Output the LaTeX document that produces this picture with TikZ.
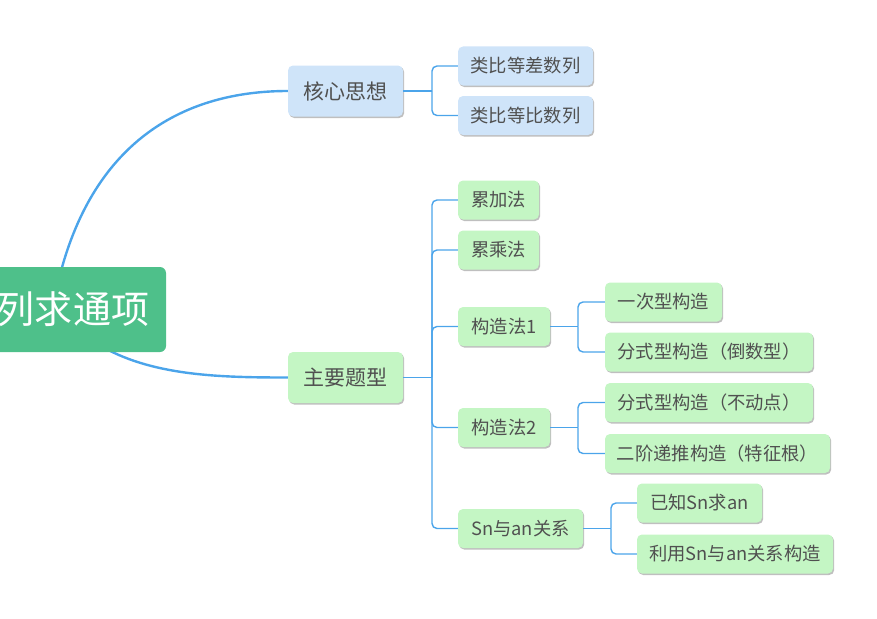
\documentclass[tikz,border=0pt]{standalone}
\usepackage{fontspec}
\setmainfont{Noto Sans CJK SC}
\usetikzlibrary{shadows,calc,backgrounds}
\definecolor{rootgreen}{HTML}{4EC08A}
\definecolor{boxblue}{HTML}{CFE4F9}
\definecolor{boxgreen}{HTML}{C4F6C4}
\definecolor{linkblue}{HTML}{4BA4EA}
\definecolor{txtgray}{HTML}{505050}
\tikzset{
  base/.style={rectangle, rounded corners=5pt, inner sep=0pt, text=txtgray,
    drop shadow={shadow xshift=1.2pt, shadow yshift=-1.5pt, opacity=0.25, fill=black}},
  rootbox/.style={rectangle, rounded corners=6pt, fill=rootgreen, text=white, inner sep=0pt,
    font=\fontsize{38}{40}\selectfont},
  lvlone/.style={base, font=\fontsize{21}{23}\selectfont, minimum width=115pt, minimum height=51pt},
  lvltwo/.style={base, font=\fontsize{18.3}{20}\selectfont, minimum height=39pt},
  bluebox/.style={fill=boxblue},
  greenbox/.style={fill=boxgreen},
  mainlink/.style={draw=linkblue, line width=2.4pt},
  sublink/.style={draw=linkblue, line width=1.4pt, rounded corners=5pt},
}
\begin{document}
\begin{tikzpicture}[x=1pt,y=-1pt]
\useasboundingbox (0,0) rectangle (877,618);
% root and level-one nodes
\node[rootbox, minimum width=186pt, minimum height=85pt] (root) at (73,309.5) {列求通项};
\node[lvlone, bluebox] (hx) at (345.5,91) {核心思想};
\node[lvlone, greenbox] (zy) at (345.5,377.5) {主要题型};
% main links (behind root)
\begin{scope}[on background layer]
\draw[mainlink] ([xshift=-13pt,yshift=-8pt]root.north) .. controls (95,140) and (185,91) .. (hx.west);
\draw[mainlink] ([xshift=25pt,yshift=8pt]root.south) .. controls (150,376) and (220,377.5) .. (zy.west);
\end{scope}
% children of 核心思想
\node[lvltwo, bluebox, minimum width=135pt] (a1) at (525.5,66) {类比等差数列};
\node[lvltwo, bluebox, minimum width=135pt] (a2) at (525.5,115.5) {类比等比数列};
% children of 主要题型
\node[lvltwo, greenbox, minimum width=81pt] (b1) at (498.5,200) {累加法};
\node[lvltwo, greenbox, minimum width=81pt] (b2) at (498.5,250) {累乘法};
\node[lvltwo, greenbox, minimum width=92pt] (b3) at (504,326.5) {构造法1};
\node[lvltwo, greenbox, minimum width=92pt] (b4) at (504,427.5) {构造法2};
\node[lvltwo, greenbox, minimum width=125pt] (b5) at (520.5,528.5) {Sn与an关系};
% grandchildren
\node[lvltwo, greenbox, minimum width=117pt] (c1) at (663.5,302) {一次型构造};
\node[lvltwo, greenbox, minimum width=208pt] (c2) at (709,352) {分式型构造（倒数型）};
\node[lvltwo, greenbox, minimum width=208pt] (c3) at (709,402.5) {分式型构造（不动点）};
\node[lvltwo, greenbox, minimum width=225pt] (c4) at (717.5,453.5) {二阶递推构造（特征根）};
\node[lvltwo, greenbox, minimum width=125pt] (c5) at (699.5,503) {已知Sn求an};
\node[lvltwo, greenbox, minimum width=196pt] (c6) at (735,554) {利用Sn与an关系构造};
% junctions
\coordinate (j1) at (432,91);
\coordinate (j2) at (432,377.5);
\coordinate (j3) at (578,326.5);
\coordinate (j4) at (578,427.5);
\coordinate (j5) at (611,528.5);
% bracket links
\draw[sublink] (hx.east) -- (j1);
\draw[sublink] (j1) |- (a1.west);
\draw[sublink] (j1) |- (a2.west);
\draw[sublink] (zy.east) -- (j2);
\draw[sublink] (j2) |- (b1.west);
\draw[sublink] (j2) |- (b2.west);
\draw[sublink] (j2) |- (b3.west);
\draw[sublink] (j2) |- (b4.west);
\draw[sublink] (j2) |- (b5.west);
\draw[sublink] (b3.east) -- (j3);
\draw[sublink] (j3) |- (c1.west);
\draw[sublink] (j3) |- (c2.west);
\draw[sublink] (b4.east) -- (j4);
\draw[sublink] (j4) |- (c3.west);
\draw[sublink] (j4) |- (c4.west);
\draw[sublink] (b5.east) -- (j5);
\draw[sublink] (j5) |- (c5.west);
\draw[sublink] (j5) |- (c6.west);
\end{tikzpicture}
\end{document}
